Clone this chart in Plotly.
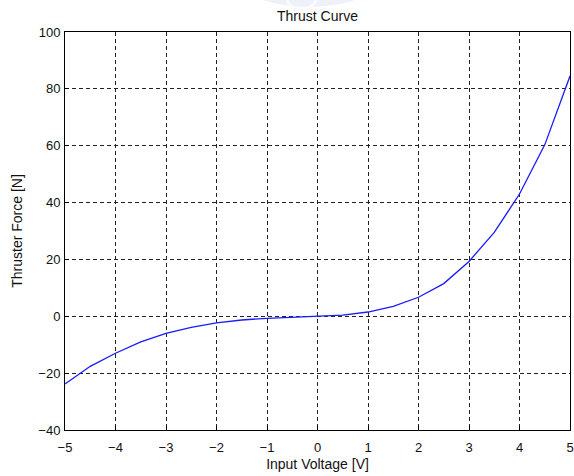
import plotly.graph_objects as go

# Input voltage samples [V] and measured thruster force [N]
voltage = [-5.0, -4.5, -4.0, -3.5, -3.0, -2.5, -2.0, -1.5, -1.0, -0.5,
           0.0, 0.5, 1.0, 1.5, 2.0, 2.5, 3.0, 3.5, 4.0, 4.5, 5.0]
force = [-23.8, -17.6, -13.0, -9.0, -6.0, -3.9, -2.3, -1.3, -0.7, -0.3,
         0.0, 0.4, 1.5, 3.5, 6.7, 11.5, 19.3, 29.5, 43.0, 60.3, 84.5]

x_ticks = [-5, -4, -3, -2, -1, 0, 1, 2, 3, 4, 5]
y_ticks = [-40, -20, 0, 20, 40, 60, 80, 100]

font_family = "Liberation Sans, Arial, sans-serif"
W, H = 574, 476
ML, MR, MT, MB = 65, 4, 32, 46
PW, PH = W - ML - MR, H - MT - MB


def px_x(px):
    """Pixel column -> paper x."""
    return (px - ML) / PW


def px_y(py):
    """Pixel row -> paper y."""
    return 1 - (py - MT) / PH


fig = go.Figure()
fig.add_trace(go.Scatter(
    x=voltage, y=force, mode="lines",
    line=dict(color="#1a1aff", width=1.3),
    showlegend=False,
))

axis_common = dict(
    showline=True, linecolor="black", linewidth=1, mirror=True,
    showgrid=True, gridcolor="#222222", griddash="4px,3px", gridwidth=1.2,
    zeroline=False, ticks="inside", ticklen=4, tickcolor="black",
    tickfont=dict(family=font_family, size=13, color="#111111"),
    automargin=False,
)

title_font = dict(family=font_family, size=14, color="#111111")

fig.update_xaxes(
    range=[-5, 5], tickvals=x_ticks, ticklabelstandoff=5,
    title=dict(text="Input Voltage [V]", font=title_font, standoff=5),
    **axis_common,
)
fig.update_yaxes(
    range=[-40, 100], tickvals=y_ticks, ticklabelstandoff=1,
    title=dict(text="Thruster Force [N]", font=title_font, standoff=12),
    **axis_common,
)

# faint emblem behind the title
fig.add_shape(type="circle", xref="paper", yref="paper", layer="below",
              x0=px_x(228), x1=px_x(390), y0=px_y(7), y1=px_y(-70),
              fillcolor="#eef0fa", line=dict(width=0))
fig.add_shape(type="circle", xref="paper", yref="paper", layer="below",
              x0=px_x(287), x1=px_x(316), y0=px_y(9), y1=px_y(-12),
              fillcolor="rgba(0,0,0,0)", line=dict(color="#fbfbfe", width=3))

fig.update_layout(
    width=W, height=H,
    margin=dict(l=ML, r=MR, t=MT, b=MB, autoexpand=False),
    paper_bgcolor="white", plot_bgcolor="white",
    title=dict(text="Thrust Curve", xref="paper", x=0.5, xanchor="center",
               yref="container", y=1 - 16 / H, yanchor="middle",
               font=title_font),
)

fig.write_html("out.html")
